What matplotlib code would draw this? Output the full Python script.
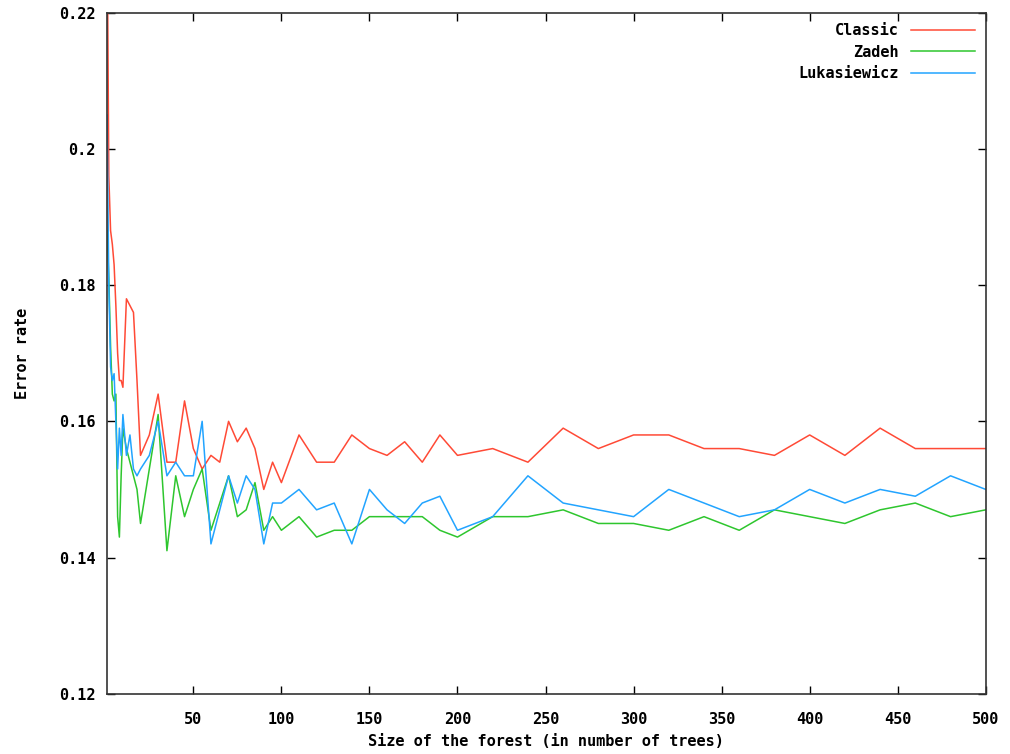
import matplotlib
matplotlib.use('Agg')
import matplotlib.pyplot as plt

# forest sizes (number of trees)
trees = [1, 2, 3, 4, 5, 6, 7, 8, 9, 10, 12, 14, 16, 18, 20, 25, 30, 35, 40, 45,
         50, 55, 60, 65, 70, 75, 80, 85, 90, 95, 100, 110, 120, 130, 140, 150,
         160, 170, 180, 190, 200, 220, 240, 260, 280, 300, 320, 340, 360, 380,
         400, 420, 440, 460, 480, 500]

classic = [0.235, 0.196, 0.188, 0.186, 0.183, 0.177, 0.170, 0.166, 0.166, 0.165,
           0.178, 0.177, 0.176, 0.166, 0.155, 0.158, 0.164, 0.154, 0.154, 0.163,
           0.156, 0.153, 0.155, 0.154, 0.160, 0.157, 0.159, 0.156, 0.150, 0.154,
           0.151, 0.158, 0.154, 0.154, 0.158, 0.156, 0.155, 0.157, 0.154, 0.158,
           0.155, 0.156, 0.154, 0.159, 0.156, 0.158, 0.158, 0.156, 0.156, 0.155,
           0.158, 0.155, 0.159, 0.156, 0.156, 0.156]

zadeh = [0.188, 0.181, 0.171, 0.164, 0.163, 0.164, 0.146, 0.143, 0.152, 0.159,
         0.156, 0.154, 0.152, 0.150, 0.145, 0.153, 0.161, 0.141, 0.152, 0.146,
         0.150, 0.153, 0.144, 0.148, 0.152, 0.146, 0.147, 0.151, 0.144, 0.146,
         0.144, 0.146, 0.143, 0.144, 0.144, 0.146, 0.146, 0.146, 0.146, 0.144,
         0.143, 0.146, 0.146, 0.147, 0.145, 0.145, 0.144, 0.146, 0.144, 0.147,
         0.146, 0.145, 0.147, 0.148, 0.146, 0.147]

lukasiewicz = [0.205, 0.180, 0.168, 0.166, 0.167, 0.160, 0.153, 0.159, 0.155, 0.161,
               0.155, 0.158, 0.153, 0.152, 0.153, 0.155, 0.160, 0.152, 0.154, 0.152,
               0.152, 0.160, 0.142, 0.147, 0.152, 0.148, 0.152, 0.150, 0.142, 0.148,
               0.148, 0.150, 0.147, 0.148, 0.142, 0.150, 0.147, 0.145, 0.148, 0.149,
               0.144, 0.146, 0.152, 0.148, 0.147, 0.146, 0.150, 0.148, 0.146, 0.147,
               0.150, 0.148, 0.150, 0.149, 0.152, 0.150]

yticks = [0.12, 0.14, 0.16, 0.18, 0.20, 0.22]
ylabels = ['0.12', '0.14', '0.16', '0.18', '0.2', '0.22']
xticks = [50, 100, 150, 200, 250, 300, 350, 400, 450, 500]

plt.rcParams['font.family'] = 'DejaVu Sans Mono'
plt.rcParams['font.weight'] = 'bold'

fig = plt.figure(figsize=(10.1, 7.54), dpi=100)
ax = fig.add_axes([0.106, 0.080, 0.870, 0.903])

ax.plot(trees, classic, color='#ff4a36', lw=1.1, label='Classic')
ax.plot(trees, zadeh, color='#2ec62e', lw=1.1, label='Zadeh')
ax.plot(trees, lukasiewicz, color='#22a4ff', lw=1.1, label='Lukasiewicz')

ax.set_xlim(1, 500)
ax.set_ylim(0.12, 0.22)
ax.set_xticks(xticks)
ax.set_yticks(yticks)
ax.set_yticklabels(ylabels)
ax.tick_params(direction='in', length=6, width=1, top=True, right=True,
               labelsize=11)
ax.tick_params(axis='x', pad=13)
ax.tick_params(axis='y', pad=8)
for s in ax.spines.values():
    s.set_linewidth(1.2)
    s.set_color('#333333')

ax.set_xlabel('Size of the forest (in number of trees)', fontsize=11,
              fontweight='bold', labelpad=5)
ax.set_ylabel('Error rate', fontsize=11, fontweight='bold', labelpad=21)

leg = ax.legend(loc='upper right', bbox_to_anchor=(0.998, 0.998), frameon=False,
                markerfirst=False, fontsize=11, handlelength=4.2, handletextpad=0.8,
                labelspacing=0.42, borderaxespad=0.2)
for t in leg.get_texts():
    t.set_fontweight('bold')

fig.savefig('out.png', dpi=100)
